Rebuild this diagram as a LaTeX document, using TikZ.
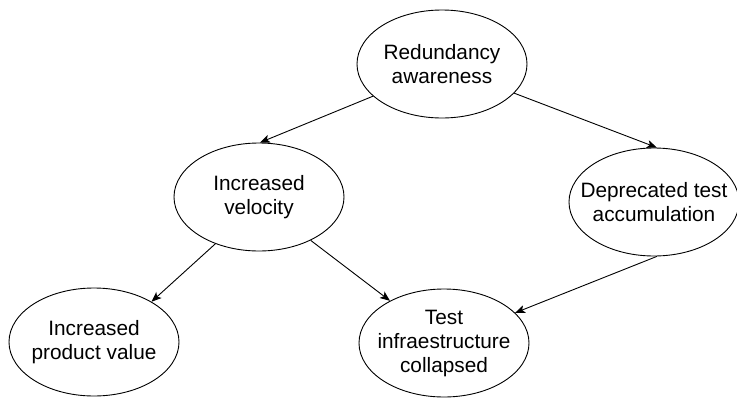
\documentclass[tikz,border=0pt]{standalone}
\usepackage{fontspec}
\setmainfont{Liberation Sans}
\usetikzlibrary{shapes.geometric,arrows.meta}
\begin{document}
\begin{tikzpicture}[x=1pt,y=-1pt,
  oval/.style={ellipse,draw=black,line width=0.9pt,inner xsep=-22pt,inner ysep=0pt,
    minimum width=170pt,minimum height=108pt,align=center,
    font=\fontsize{20.8}{24}\selectfont},
  conn/.style={line width=0.9pt,-{Stealth[length=10pt,width=8pt,inset=2.5pt]}}]
\useasboundingbox (0,0) rectangle (737,397);
\node[oval] (ra) at (442,64) {Redundancy\\awareness};
\node[oval] (iv) at (259,197) {Increased\\velocity};
\node[oval] (dt) at (654,202) {Deprecated test\\accumulation};
\node[oval] (pv) at (94,342) {Increased\\product value};
\node[oval] (tc) at (444,343) {Test\\infraestructure\\collapsed};
\draw[conn] (ra.205) -- (iv.89);
\draw[conn] (ra.338) -- (dt.87);
\draw[conn] (iv.227) -- (pv.35);
\draw[conn] (iv.320) -- (tc.142);
\draw[conn] (dt.273) -- (tc.23);
\end{tikzpicture}
\end{document}
